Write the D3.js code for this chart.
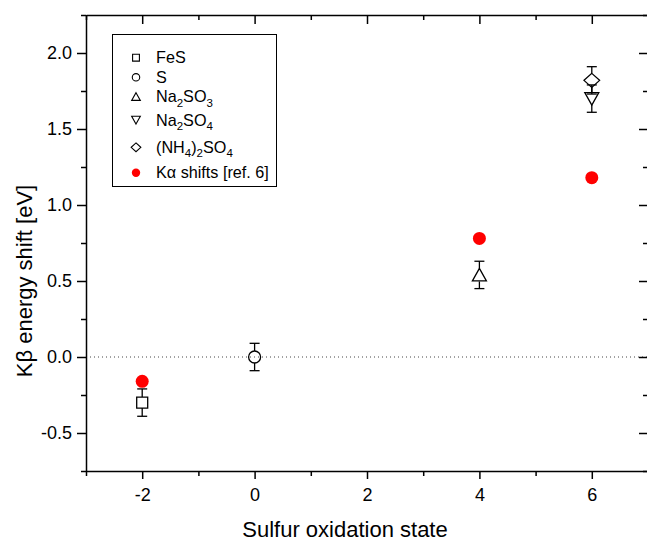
<!DOCTYPE html>
<html>
<head>
<meta charset="utf-8">
<script src="https://cdn.jsdelivr.net/npm/d3@7"></script>
<style>
  body { margin: 0; background: #fff; }
  svg text { font-family: "Liberation Sans", Arial, Helvetica, sans-serif; fill: #000; }
</style>
</head>
<body>
<svg id="chart" width="647" height="542"></svg>
<script>
// data
var compounds = ["FeS", "S", "Na_2SO_3", "Na_2SO_4", "(NH_4)_2SO_4"];
var oxStates = [-2, 0, 4, 6, 6];
var kbShift = [-0.30, 0.00, 0.54, 1.70, 1.82];
var kbErr = [0.09, 0.09, 0.09, 0.09, 0.09];
var markerKinds = ["square", "circle", "triangle", "triangleDown", "diamond"];
var kaStates = [-2, 4, 6];
var kaShift = [-0.16, 0.78, 1.18];
var kaLabel = "K\u03b1 shifts [ref. 6]";
var xTicks = [-2, 0, 2, 4, 6];
var yTicks = [-0.5, 0.0, 0.5, 1.0, 1.5, 2.0];
var xTitle = "Sulfur oxidation state";
var yTitle = "K\u03b2 energy shift [eV]";

var svg = d3.select("#chart");
var plotLeft = 86, plotRight = 648, plotTop = 15, plotBottom = 471;

var x = d3.scaleLinear().domain([-3, 7]).range([plotLeft, plotRight]);
var y = d3.scaleLinear().domain([-0.75, 2.25]).range([plotBottom, plotTop]);

// minor ticks halfway between majors
var xMinor = d3.range(-3, 7.01, 1).filter(function (v) { return xTicks.indexOf(v) < 0; });
var yMinor = d3.range(-0.75, 2.26, 0.25).filter(function (v) {
  return !yTicks.some(function (t) { return Math.abs(t - v) < 1e-6; });
});

// plain hyphen for negatives like the original
function fmtX(d) { return String(d); }
function fmtY(d) { return d.toFixed(1); }

//zero line
svg.append("line")
  .attr("x1", plotLeft).attr("x2", plotRight)
  .attr("y1", y(0)).attr("y2", y(0))
  .attr("stroke", "#444").attr("stroke-width", 1)
  .attr("stroke-dasharray", "1,3");

// axes: bottom/left outward, top/right inward
function styleAxis(g) {
  g.select(".domain").attr("stroke", "#000").attr("stroke-width", 1.5);
  g.selectAll(".tick line").attr("stroke", "#000").attr("stroke-width", 1.5);
  g.selectAll("text").style("font-size", "18px");
}
function minorStyle(g) {
  g.select(".domain").remove();
  g.selectAll("line").attr("stroke", "#000").attr("stroke-width", 1.5);
}

var xb = svg.append("g").attr("transform", "translate(0," + plotBottom + ")")
  .call(d3.axisBottom(x).tickValues(xTicks).tickSize(8).tickSizeOuter(0).tickPadding(9).tickFormat(fmtX));
styleAxis(xb);
svg.append("g").attr("transform", "translate(0," + plotBottom + ")")
  .call(d3.axisBottom(x).tickValues(xMinor).tickSize(5).tickSizeOuter(0).tickFormat(""))
  .call(minorStyle);

var yl = svg.append("g").attr("transform", "translate(" + plotLeft + ",0)")
  .call(d3.axisLeft(y).tickValues(yTicks).tickSize(9).tickSizeOuter(0).tickPadding(5).tickFormat(fmtY));
styleAxis(yl);
svg.append("g").attr("transform", "translate(" + plotLeft + ",0)")
  .call(d3.axisLeft(y).tickValues(yMinor).tickSize(5).tickSizeOuter(0).tickFormat(""))
  .call(minorStyle);

var xt = svg.append("g").attr("transform", "translate(0," + plotTop + ")")
  .call(d3.axisTop(x).tickValues(xTicks).tickSize(-9).tickSizeOuter(0).tickFormat(""));
styleAxis(xt);
svg.append("g").attr("transform", "translate(0," + plotTop + ")")
  .call(d3.axisTop(x).tickValues(xMinor).tickSize(-5).tickSizeOuter(0).tickFormat(""))
  .call(minorStyle);

var yr = svg.append("g").attr("transform", "translate(" + plotRight + ",0)")
  .call(d3.axisRight(y).tickValues(yTicks).tickSize(-9).tickSizeOuter(0).tickFormat(""));
styleAxis(yr);
svg.append("g").attr("transform", "translate(" + plotRight + ",0)")
  .call(d3.axisRight(y).tickValues(yMinor).tickSize(-5).tickSizeOuter(0).tickFormat(""))
  .call(minorStyle);

// axis titles
svg.append("text").attr("x", 345).attr("y", 537)
  .attr("text-anchor", "middle").style("font-size", "22px").text(xTitle);
svg.append("text").attr("transform", "translate(32,281) rotate(-90)")
  .attr("text-anchor", "middle").style("font-size", "22px").text(yTitle);

// marker shapes, s = scale factor
function markerPath(kind, s) {
  var p = d3.path();
  if (kind == "square") {
    var h = 5.5 * s; p.rect(-h, -h, 2 * h, 2 * h);
  } else if (kind == "circle") {
    p.arc(0, 0, 6 * s, 0, 2 * Math.PI);
  } else if (kind == "triangle") {
    p.moveTo(0, -6.5 * s); p.lineTo(7 * s, 6 * s); p.lineTo(-7 * s, 6 * s); p.closePath();
  } else if (kind == "triangleDown") {
    p.moveTo(0, 6.5 * s); p.lineTo(7 * s, -6 * s); p.lineTo(-7 * s, -6 * s); p.closePath();
  } else if (kind == "diamond") {
    p.moveTo(0, -7 * s); p.lineTo(7.8 * s, 0); p.lineTo(0, 7 * s); p.lineTo(-7.8 * s, 0); p.closePath();
  }
  return p.toString();
}
function halfHeight(kind) {
  return { square: 5.5, circle: 6, triangle: 6.5, triangleDown: 6.5, diamond: 7 }[kind];
}

// K-beta points with error bars
var pts = compounds.map(function (c, i) {
  return { name: c, x: oxStates[i], y: kbShift[i], e: kbErr[i], kind: markerKinds[i] };
});

var eb = svg.append("g").attr("stroke", "#000").attr("stroke-width", 1.3);
pts.forEach(function (d) {
  var cx = x(d.x), cy = y(d.y), hh = halfHeight(d.kind);
  var yt = y(d.y + d.e), ybm = y(d.y - d.e);
  eb.append("line").attr("x1", cx).attr("x2", cx).attr("y1", yt).attr("y2", cy - hh);
  eb.append("line").attr("x1", cx).attr("x2", cx).attr("y1", cy + hh).attr("y2", ybm);
  eb.append("line").attr("x1", cx - 5).attr("x2", cx + 5).attr("y1", yt).attr("y2", yt);
  eb.append("line").attr("x1", cx - 5).attr("x2", cx + 5).attr("y1", ybm).attr("y2", ybm);
});

svg.append("g").selectAll("path").data(pts).enter().append("path")
  .attr("transform", function (d) { return "translate(" + x(d.x) + "," + y(d.y) + ")"; })
  .attr("d", function (d) { return markerPath(d.kind, 1); })
  .attr("fill", "none").attr("stroke", "#000").attr("stroke-width", 1.3);

// K-alpha shifts
svg.append("g").selectAll("circle").data(kaStates).enter().append("circle")
  .attr("cx", function (d) { return x(d); })
  .attr("cy", function (d, i) { return y(kaShift[i]); })
  .attr("r", 6.5).attr("fill", "#ff0000");

// legend
var lg = svg.append("g");
lg.append("rect").attr("x", 112.5).attr("y", 34.5).attr("width", 164).attr("height", 152)
  .attr("fill", "#fff").attr("stroke", "#000").attr("stroke-width", 1);

var rowY = [57.7, 77.3, 96.7, 120, 147.3];
function addRich(t, label) {
  // "_2" style subscripts, shift back up on the next piece
  var parts = label.split(/(_\d)/).filter(function (p) { return p; });
  var down = false;
  parts.forEach(function (p) {
    if (p[0] == "_") {
      t.append("tspan").attr("dy", 4.5).style("font-size", "11.5px").text(p.slice(1));
      down = true;
    } else {
      t.append("tspan").attr("dy", down ? -4.5 : 0).text(p);
      down = false;
    }
  });
}
pts.forEach(function (d, i) {
  lg.append("path").attr("transform", "translate(136," + rowY[i] + ")")
    .attr("d", markerPath(d.kind, 0.62))
    .attr("fill", "none").attr("stroke", "#000").attr("stroke-width", 1.1);
  var t = lg.append("text").attr("x", 156).attr("y", rowY[i] + 5.5).style("font-size", "16.2px");
  addRich(t, d.name);
});
lg.append("circle").attr("cx", 136).attr("cy", 172.7).attr("r", 4.2).attr("fill", "#ff0000");
lg.append("text").attr("x", 156).attr("y", 178.2).style("font-size", "16.2px").text(kaLabel);
</script>
</body>
</html>
